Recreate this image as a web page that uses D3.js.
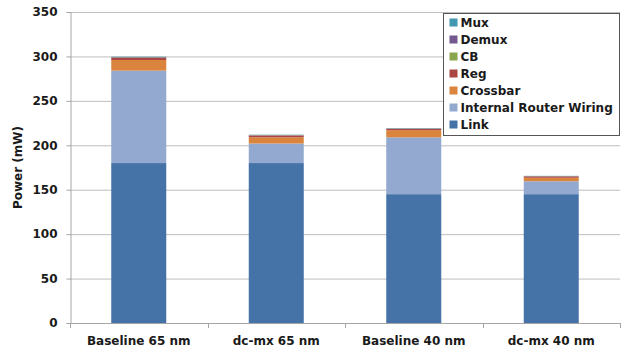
<!DOCTYPE html>
<html lang="en">
<head>
  <meta charset="UTF-8">
  <title>Power breakdown stacked bars</title>
  <script src="https://d3js.org/d3.v7.min.js"></script>
  <style>
    html, body { margin: 0; padding: 0; background: #fff; }
    svg text { font-family: "DejaVu Sans", Verdana, sans-serif; font-weight: bold; fill: #1a1a1a; }
  </style>
</head>
<body>
  <div id="chart"></div>
  <script>
    // categories and stacked components (mW), bottom to top
    var categories = ["Baseline 65 nm", "dc-mx 65 nm", "Baseline 40 nm", "dc-mx 40 nm"];
    var seriesNames = ["Link", "Internal Router Wiring", "Crossbar", "Reg", "CB", "Demux", "Mux"];
    var link     = [180, 180, 145, 145];
    var wiring   = [104, 22, 64, 14.5];
    var crossbar = [12, 7, 8, 4];
    var reg      = [2.5, 2, 1.5, 1.5];
    var cb       = [0.4, 0.3, 0.3, 0.2];
    var demux    = [0.4, 0.3, 0.3, 0.2];
    var mux      = [0.4, 0.3, 0.3, 0.2];
    var yTicks   = [0, 50, 100, 150, 200, 250, 300, 350];

    var colors = {
      "Link": "#4572A7",
      "Internal Router Wiring": "#93A9CF",
      "Crossbar": "#DB843D",
      "Reg": "#AA4643",
      "CB": "#89A54E",
      "Demux": "#71588F",
      "Mux": "#4198AF"
    };

    var seriesValues = [link, wiring, crossbar, reg, cb, demux, mux];
    var table = categories.map(function(c, i) {
      var row = { category: c };
      seriesNames.forEach(function(s, j) { row[s] = seriesValues[j][i]; });
      return row;
    });

    var width = 626, height = 353;
    var margin = { top: 12, right: 6, bottom: 30, left: 70 };

    var svg = d3.select("#chart").append("svg")
      .attr("width", width)
      .attr("height", height);

    var x = d3.scaleBand()
      .domain(categories)
      .range([margin.left, width - margin.right])
      .paddingInner(0.6)
      .paddingOuter(0.3);

    var y = d3.scaleLinear()
      .domain([0, 350])
      .range([height - margin.bottom, margin.top]);

    // gridlines
    svg.append("g")
      .selectAll("line")
      .data(yTicks.filter(function(d) { return d > 0; }))
      .join("line")
      .attr("x1", margin.left)
      .attr("x2", width - margin.right)
      .attr("y1", function(d) { return y(d) + 0.5; })
      .attr("y2", function(d) { return y(d) + 0.5; })
      .attr("stroke", "#bdbdbd")
      .attr("stroke-width", 1);

    // stacked bars
    var stack = d3.stack().keys(seriesNames);
    var layers = stack(table);

    svg.append("g")
      .selectAll("g")
      .data(layers)
      .join("g")
      .attr("fill", function(d) { return colors[d.key]; })
      .selectAll("rect")
      .data(function(d) { return d; })
      .join("rect")
      .attr("x", function(d) { return x(d.data.category); })
      .attr("width", x.bandwidth())
      .attr("y", function(d) { return y(d[1]); })
      .attr("height", function(d) { return y(d[0]) - y(d[1]); });

    // y axis
    var yAxis = svg.append("g")
      .attr("transform", "translate(" + (margin.left + 0.5) + ",0)")
      .call(d3.axisLeft(y).tickValues(yTicks).tickSize(4).tickPadding(9));
    yAxis.selectAll("text").style("font-size", "12px");
    yAxis.selectAll("line").attr("stroke", "#a6a6a6");
    yAxis.select(".domain").attr("stroke", "#a6a6a6");

    // x axis with ticks at category boundaries
    var step = x.step();
    var boundaries = d3.range(categories.length + 1).map(function(i) { return margin.left + i * (width - margin.left - margin.right) / categories.length; });
    var xg = svg.append("g");
    xg.append("line")
      .attr("x1", margin.left)
      .attr("x2", width - margin.right)
      .attr("y1", y(0) + 0.5)
      .attr("y2", y(0) + 0.5)
      .attr("stroke", "#a6a6a6");
    xg.selectAll("line.tick")
      .data(boundaries)
      .join("line")
      .attr("class", "tick")
      .attr("x1", function(d) { return Math.round(d) + 0.5; })
      .attr("x2", function(d) { return Math.round(d) + 0.5; })
      .attr("y1", y(0))
      .attr("y2", y(0) + 5)
      .attr("stroke", "#a6a6a6");
    xg.selectAll("text")
      .data(categories)
      .join("text")
      .attr("x", function(d) { return x(d) + x.bandwidth() / 2; })
      .attr("y", y(0) + 22)
      .attr("text-anchor", "middle")
      .style("font-size", "12px")
      .text(function(d) { return d; });

    // y label
    svg.append("text")
      .attr("transform", "translate(22," + ((y(0) + y(350)) / 2) + ") rotate(-90)")
      .attr("text-anchor", "middle")
      .style("font-size", "12px")
      .text("Power (mW)");

    // legend (top to bottom reverses stack order)
    var legendItems = seriesNames.slice().reverse();
    var lg = svg.append("g").attr("transform", "translate(443.5,13.5)");
    lg.append("rect")
      .attr("width", 176)
      .attr("height", 122)
      .attr("fill", "#fff")
      .attr("stroke", "#555")
      .attr("stroke-width", 1);
    var item = lg.selectAll("g.item")
      .data(legendItems)
      .join("g")
      .attr("class", "item")
      .attr("transform", function(d, i) { return "translate(6," + (9 + i * 17) + ")"; });
    item.append("rect")
      .attr("x", 0)
      .attr("y", -4)
      .attr("width", 8)
      .attr("height", 8)
      .attr("fill", function(d) { return colors[d]; });
    item.append("text")
      .attr("x", 11)
      .attr("y", 4.5)
      .style("font-size", "12px")
      .text(function(d) { return d; });
  </script>
</body>
</html>
